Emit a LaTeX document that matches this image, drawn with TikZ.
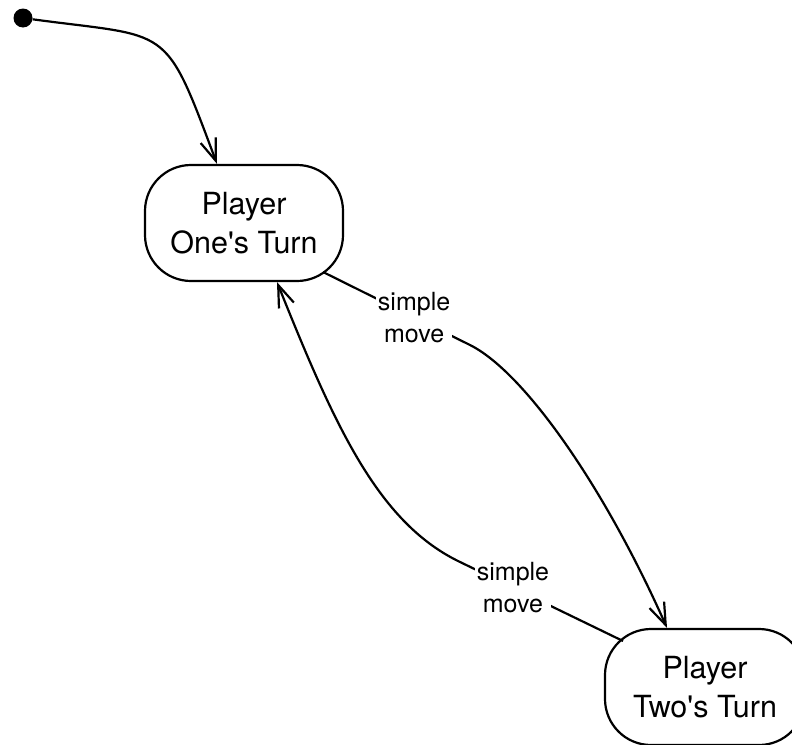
\documentclass[tikz,border=0pt]{standalone}
\usepackage{fontspec}
\setmainfont{TeX Gyre Heros}
\usetikzlibrary{arrows.meta,calc}

\tikzset{
  state/.style={draw, line width=2.2pt, rounded corners=46pt, align=center,
    minimum height=116pt, inner sep=0pt,
    font=\fontsize{30.5pt}{39pt}\selectfont},
  edge/.style={line width=2.2pt,
    -{Straight Barb[length=22pt,width=16pt,line width=2.2pt]}},
  lbl/.style={fill=white, align=center, inner sep=2pt,
    font=\fontsize{25pt}{32pt}\selectfont},
  startdot/.style={circle, fill=black, inner sep=0pt, minimum size=19pt}
}

\begin{document}
\begin{tikzpicture}[x=1pt,y=-1pt]
  \useasboundingbox (0,0) rectangle (792,744);
  \clip (0,0) rectangle (792,744);

  % states
  \node[startdot] (init) at (23,18) {};
  \node[state, minimum width=198pt] (one) at (244,223) {Player\\One\textquotesingle s Turn};
  \node[state, minimum width=200pt] (two) at (705,687) {Player\\Two\textquotesingle s Turn};

  % bends of the two transitions
  \coordinate (bendA) at (470,345);
  \coordinate (bendB) at (458,561);

  % initial transition
  \draw[edge] (init) .. controls (171,38) and (164,22) .. ([xshift=-27pt]one.north);

  % player one -> player two
  \draw[edge] ($(one.center)+(79,49)$)
    -- node[lbl, pos=0.62] {simple\\move} (bendA)
    .. controls (524,372) and (604,486) .. ([xshift=-38pt]two.north);

  % player two -> player one
  \draw[edge] ($(two.center)+(-82,-46)$)
    -- node[lbl, pos=0.667] {simple\\move} (bendB)
    .. controls (377,521) and (334,424) .. ([xshift=33pt]one.south);
\end{tikzpicture}
\end{document}
